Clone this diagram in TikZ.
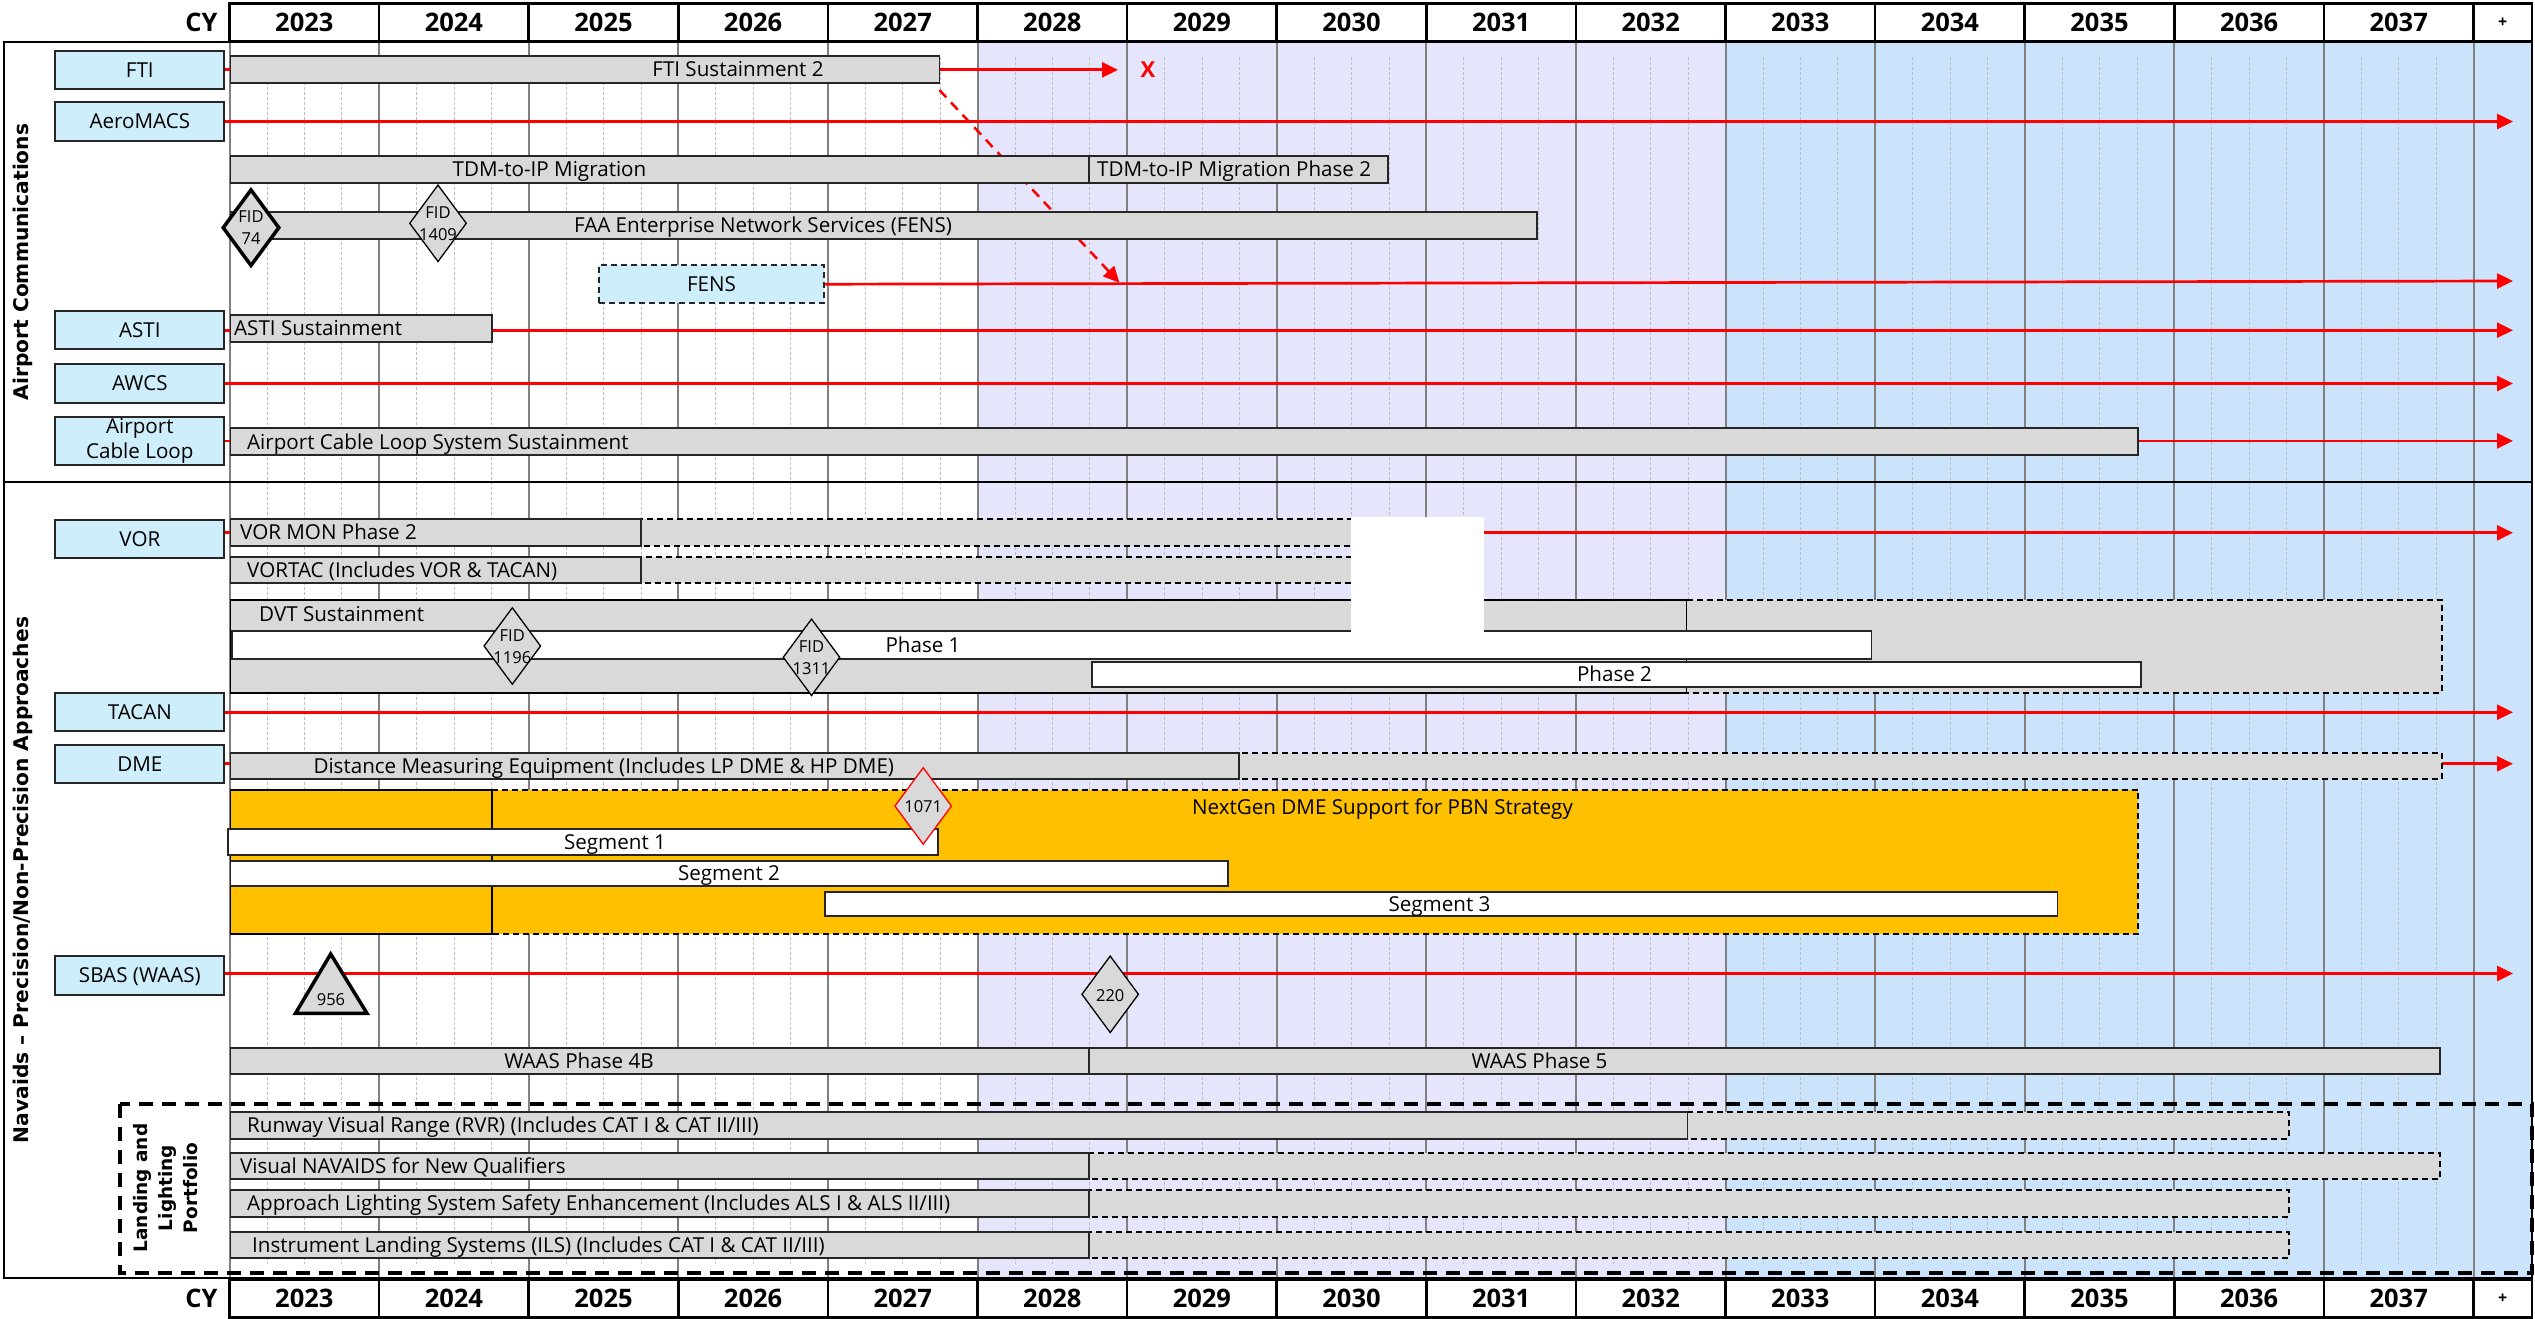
\documentclass[tikz,border=0pt]{standalone}
\usepackage{fontspec}
\setmainfont{Open Sans}
\newfontfamily\secfam{DejaVu Sans}
\usetikzlibrary{arrows.meta,shapes.geometric}
\definecolor{barg}{RGB}{217,217,217}
\definecolor{lblc}{RGB}{207,238,252}
\definecolor{lavc}{RGB}{229,229,251}
\definecolor{skyc}{RGB}{204,228,251}
\definecolor{orgc}{RGB}{255,192,0}
\definecolor{majc}{RGB}{128,128,128}
\definecolor{minc}{RGB}{190,190,190}
\newcommand\mytxt{\fontsize{20.6}{25}\selectfont}
\newcommand\mysml{\fontsize{16.5}{22}\selectfont}
\newcommand\myhdr{\fontsize{25.5}{30}\selectfont\bfseries}
\newcommand\mysec{\secfam\bfseries\fontsize{20.2}{24}\selectfont}
\newcommand\myllp{\secfam\bfseries\fontsize{18.5}{25}\selectfont}
\begin{document}
\begin{tikzpicture}[x=1pt,y=-1pt,
  majgrid/.style={draw=majc, line width=2},
  mingrid/.style={draw=minc, line width=0.7, dash pattern=on 3pt off 2pt},
  rl/.style={draw=red, line width=2.7},
  ra/.style={rl, -{Triangle[length=16pt,width=15pt]}},
  lblbase/.style={draw=black!85, line width=2, fill=lblc, minimum width=169.1, minimum height=38.5, inner sep=0, font=\mytxt, align=center},
  lbl1/.style={lblbase, text height=14.7pt, text depth=0pt},
  bar/.style={draw=black!85, line width=1.8, fill=barg},
  wbar/.style={bar, fill=white},
  dbar/.style={draw=black, line width=1.8, dash pattern=on 6pt off 4pt, fill=barg},
  dashb/.style={draw=black, line width=1.8, dash pattern=on 6pt off 4pt},
  bt/.style={font=\mytxt, inner sep=0, text height=14.7pt, text depth=0pt},
  btl/.style={bt, anchor=west},
  fid/.style={diamond, draw=black, line width=1.3, fill=barg, minimum width=57, minimum height=77, inner sep=0},
  dtxt/.style={font=\mysml, align=center, inner sep=0},
  hdrc/.style={draw=black, line width=2.5, fill=white, minimum width=149.6, inner sep=0, font=\myhdr, text height=18.2pt, text depth=0pt},
  plusc/.style={draw=black, line width=2.5, fill=white, minimum width=58.5, inner sep=0, font=\bfseries\fontsize{16}{18}\selectfont}
]
\useasboundingbox (0,0) rectangle (2535,1319);
\fill[white] (0,0) rectangle (2535,1319);
% background periods
\fill[lavc] (977.5,41.7) rectangle (1725.5,1279);
\fill[skyc] (1725.5,41.7) rectangle (2532,1279);
% grid
\foreach \i in {0,...,14}{
  \foreach \q in {1,2,3}{
    \draw[mingrid] ({229.5+\i*149.6+\q*37.4},57) -- ({229.5+\i*149.6+\q*37.4},1264);
  }
}
\foreach \i in {0,...,15}{
  \draw[majgrid] ({229.5+\i*149.6},41.7) -- ({229.5+\i*149.6},1279);
}
% label boxes
\node[lbl1] (fti) at (139.85,69.85) {FTI};
\node[lbl1] (aero) at (139.85,121.5) {AeroMACS};
\node[lbl1] (asti) at (139.85,330.2) {ASTI};
\node[lbl1] (awcs) at (139.85,383.5) {AWCS};
\node[lblbase, minimum height=48.3] (acl) at (139.85,440.9) {Airport\\Cable Loop};
\node[lbl1] (vor) at (139.85,538.8) {VOR};
\node[lbl1] (tacan) at (139.85,712.2) {TACAN};
\node[lbl1] (dme) at (139.85,763.8) {DME};
\node[lbl1] (sbas) at (139.85,975.5) {SBAS (WAAS)};
\node[lbl1, minimum width=225, minimum height=38.3, dash pattern=on 6pt off 4pt] (fens) at (711.5,284.2) {FENS};
% red connectors
\coordinate (tipx) at (2513,0);
\coordinate (ftiEnd) at (1118,69.85);
\coordinate (fensEnd) at (2513,281);
\coordinate (ftiBar) at (939.4,90);
\coordinate (fensArr) at (1119.4,282.7);
\draw[ra] (fti.east) -- (ftiEnd);
\draw[ra] (aero.east) -- (aero.east -| tipx);
\draw[ra] (asti.east) -- (asti.east -| tipx);
\draw[ra] (awcs.east) -- (awcs.east -| tipx);
\draw[ra] (acl.east) -- (acl.east -| tipx);
\draw[ra] ([yshift=6pt]vor.east) -- ([yshift=6pt]vor.east -| tipx);
\draw[ra] (tacan.east) -- (tacan.east -| tipx);
\draw[ra] (dme.east) -- (dme.east -| tipx);
\draw[ra] ([yshift=2pt]sbas.east) -- ([yshift=2pt]sbas.east -| tipx);
\draw[ra] (fens.east) -- (fensEnd);
\draw[ra, line width=2.5, dash pattern=on 10pt off 7pt] (ftiBar) -- (fensArr);
\node[font=\bfseries\fontsize{22}{24}\selectfont, text=red, inner sep=0] (xmark) at (1148,69.5) {X};
% Airport communications bars
\draw[bar] (230.4,56) rectangle (939.4,82.7);
\draw[bar] (230.4,155.7) rectangle (1089,182.7);
\draw[bar] (1089,155.7) rectangle (1387.8,182.7);
\draw[bar] (230.4,211.7) rectangle (1537,238.7);
\draw[bar] (230.4,315) rectangle (491.7,341.7);
\draw[bar] (230.4,428.3) rectangle (2138.3,455);
% Navaids bars
\draw[dbar] (641.3,519) rectangle (1420,546);
\draw[bar] (230.4,519) rectangle (641.3,546);
\draw[dbar] (641.3,556.7) rectangle (1420,583.3);
\draw[bar] (230.4,556.7) rectangle (641.3,583.3);
\fill[barg] (230.4,600) rectangle (2441.6,692.7);
\draw[dashb] (1686.5,600) -- (2441.6,600) -- (2441.6,692.7) -- (1686.5,692.7);
\draw[line width=1.8] (230.4,600) rectangle (1686.5,692.7);
\draw[wbar] (232,631) rectangle (1871.5,659.3);
\draw[wbar] (1091.8,661.7) rectangle (2141,687.3);
\draw[dbar] (1238.7,752.7) rectangle (2441.6,779.3);
\draw[bar] (230.4,752.7) rectangle (1238.7,779.3);
\fill[orgc] (230.4,790) rectangle (2138.3,933.8);
\draw[line width=1.8] (230.4,790) rectangle (491.7,933.8);
\draw[dashb] (491.7,790) -- (2138.3,790) -- (2138.3,933.8) -- (491.7,933.8);
\draw[wbar] (227.7,829) rectangle (937.8,855);
\draw[wbar] (230.4,860.7) rectangle (1227.8,886);
\draw[wbar] (825,891.7) rectangle (2057.4,915.7);
\draw[bar] (230.4,1048.3) rectangle (1089,1074);
\draw[bar] (1089,1048.3) rectangle (2440,1074);
\draw[dbar] (1687.5,1112.3) rectangle (2288.8,1138.7);
\draw[bar] (230.4,1112.3) rectangle (1687.5,1138.7);
\draw[dbar] (1089,1152.7) rectangle (2440,1179.3);
\draw[bar] (230.4,1152.7) rectangle (1089,1179.3);
\draw[dbar] (1089,1190) rectangle (2288.8,1216.7);
\draw[bar] (230.4,1190) rectangle (1089,1216.7);
\draw[dbar] (1089,1231.7) rectangle (2288.8,1258.3);
\draw[bar] (230.4,1231.7) rectangle (1089,1258.3);
% bar texts
\node[bt] (tFti) at (738,69.4) {FTI Sustainment 2};
\node[bt] (tTdm) at (549.5,169.2) {TDM-to-IP Migration};
\node[btl] (tTdm2) at (1097,169.2) {TDM-to-IP Migration Phase 2};
\node[bt] (tFens) at (763,225.2) {FAA Enterprise Network Services (FENS)};
\node[btl] (tAsti) at (234,328.4) {ASTI Sustainment};
\node[btl] (tAcl) at (247,441.7) {Airport Cable Loop System Sustainment};
\node[btl] (tVorm) at (240,532.5) {VOR MON Phase 2};
\node[btl] (tVortac) at (247,570) {VORTAC (Includes VOR \& TACAN)};
\node[btl] (tDvt) at (259,614) {DVT Sustainment};
\node[bt] (tPh1) at (923,645) {Phase 1};
\node[bt] (tPh2) at (1614.5,674.5) {Phase 2};
\node[btl] (tDme) at (313.3,766) {Distance Measuring Equipment (Includes LP DME \& HP DME)};
\node[bt] (tNg) at (1382.5,806.7) {NextGen DME Support for PBN Strategy};
\node[bt] (tS1) at (615,842) {Segment 1};
\node[bt] (tS2) at (729,873.3) {Segment 2};
\node[bt] (tS3) at (1439.5,903.7) {Segment 3};
\node[bt] (tW4) at (579,1061) {WAAS Phase 4B};
\node[bt] (tW5) at (1539.5,1061) {WAAS Phase 5};
\node[btl] (tRvr) at (247,1125.5) {Runway Visual Range (RVR) (Includes CAT I \& CAT II/III)};
\node[btl] (tVis) at (240,1166) {Visual NAVAIDS for New Qualifiers};
\node[btl] (tAls) at (247,1203.3) {Approach Lighting System Safety Enhancement (Includes ALS I \& ALS II/III)};
\node[btl] (tIls) at (252,1245) {Instrument Landing Systems (ILS) (Includes CAT I \& CAT II/III)};
% milestones
\node[fid, line width=3.5] (d74) at (251,227.7) {};
\node[dtxt] (d74t) at (251,228) {FID\\74};
\node[fid] (d1409) at (438,223.3) {};
\node[dtxt] (d1409t) at (438,224) {FID\\1409};
\node[fid] (d1196) at (512.3,646) {};
\node[dtxt] (d1196t) at (512.3,647) {FID\\1196};
\node[fid] (d1311) at (811.5,657.3) {};
\node[dtxt] (d1311t) at (811.5,658) {FID\\1311};
\node[fid, draw=red] (d1071) at (923.2,806) {};
\node[dtxt] (d1071t) at (923.2,806.7) {1071};
\node[fid] (d220) at (1110.2,994.3) {};
\node[dtxt] (d220t) at (1110.2,995.5) {220};
\draw[line width=3.5, fill=barg, line join=miter] (330.7,954) -- (367,1013.3) -- (295.5,1013.3) -- cycle;
\node[dtxt] (t956) at (331,1000) {956};
% sections
\draw[line width=2] (3.8,42.3) rectangle (2532,482.3);
\draw[line width=2] (3.8,482.3) rectangle (2532,1278.3);
\draw[line width=4, dash pattern=on 14pt off 9pt] (120.3,1104) rectangle (2532,1273.3);
\node[rotate=90, font=\mysec, inner sep=0, text height=14.7pt, text depth=0pt] (secA) at (21.5,262) {Airport Communications};
\node[rotate=90, font=\mysec, inner sep=0, text height=14.7pt, text depth=0pt] (secN) at (21.5,880) {Navaids – Precision/Non-Precision Approaches};
\node[rotate=90, font=\myllp, align=center, inner sep=0] (secL) at (166,1188) {Landing and\\Lighting\\Portfolio};
% headers
\foreach \i in {0,...,14}{
  \pgfmathtruncatemacro{\yr}{2023+\i}
  \node[hdrc, minimum height=38.4] (ht\i) at ({229.5+\i*149.6+74.8},22.5) {\yr};
  \node[hdrc, minimum height=37.3] (hb\i) at ({229.5+\i*149.6+74.8},1298.65) {\yr};
}
\node[plusc, minimum height=38.4] (htp) at (2502.75,22.5) {+};
\node[plusc, minimum height=37.3] (hbp) at (2502.75,1298.65) {+};
\node[font=\myhdr, inner sep=0, text height=18.2pt, text depth=0pt] (cyT) at (201.5,22.5) {CY};
\node[font=\myhdr, inner sep=0, text height=18.2pt, text depth=0pt] (cyB) at (201.5,1298.65) {CY};
% white cover
\fill[white] (1351.4,517.3) rectangle (1484.2,650);
\end{tikzpicture}
\end{document}
